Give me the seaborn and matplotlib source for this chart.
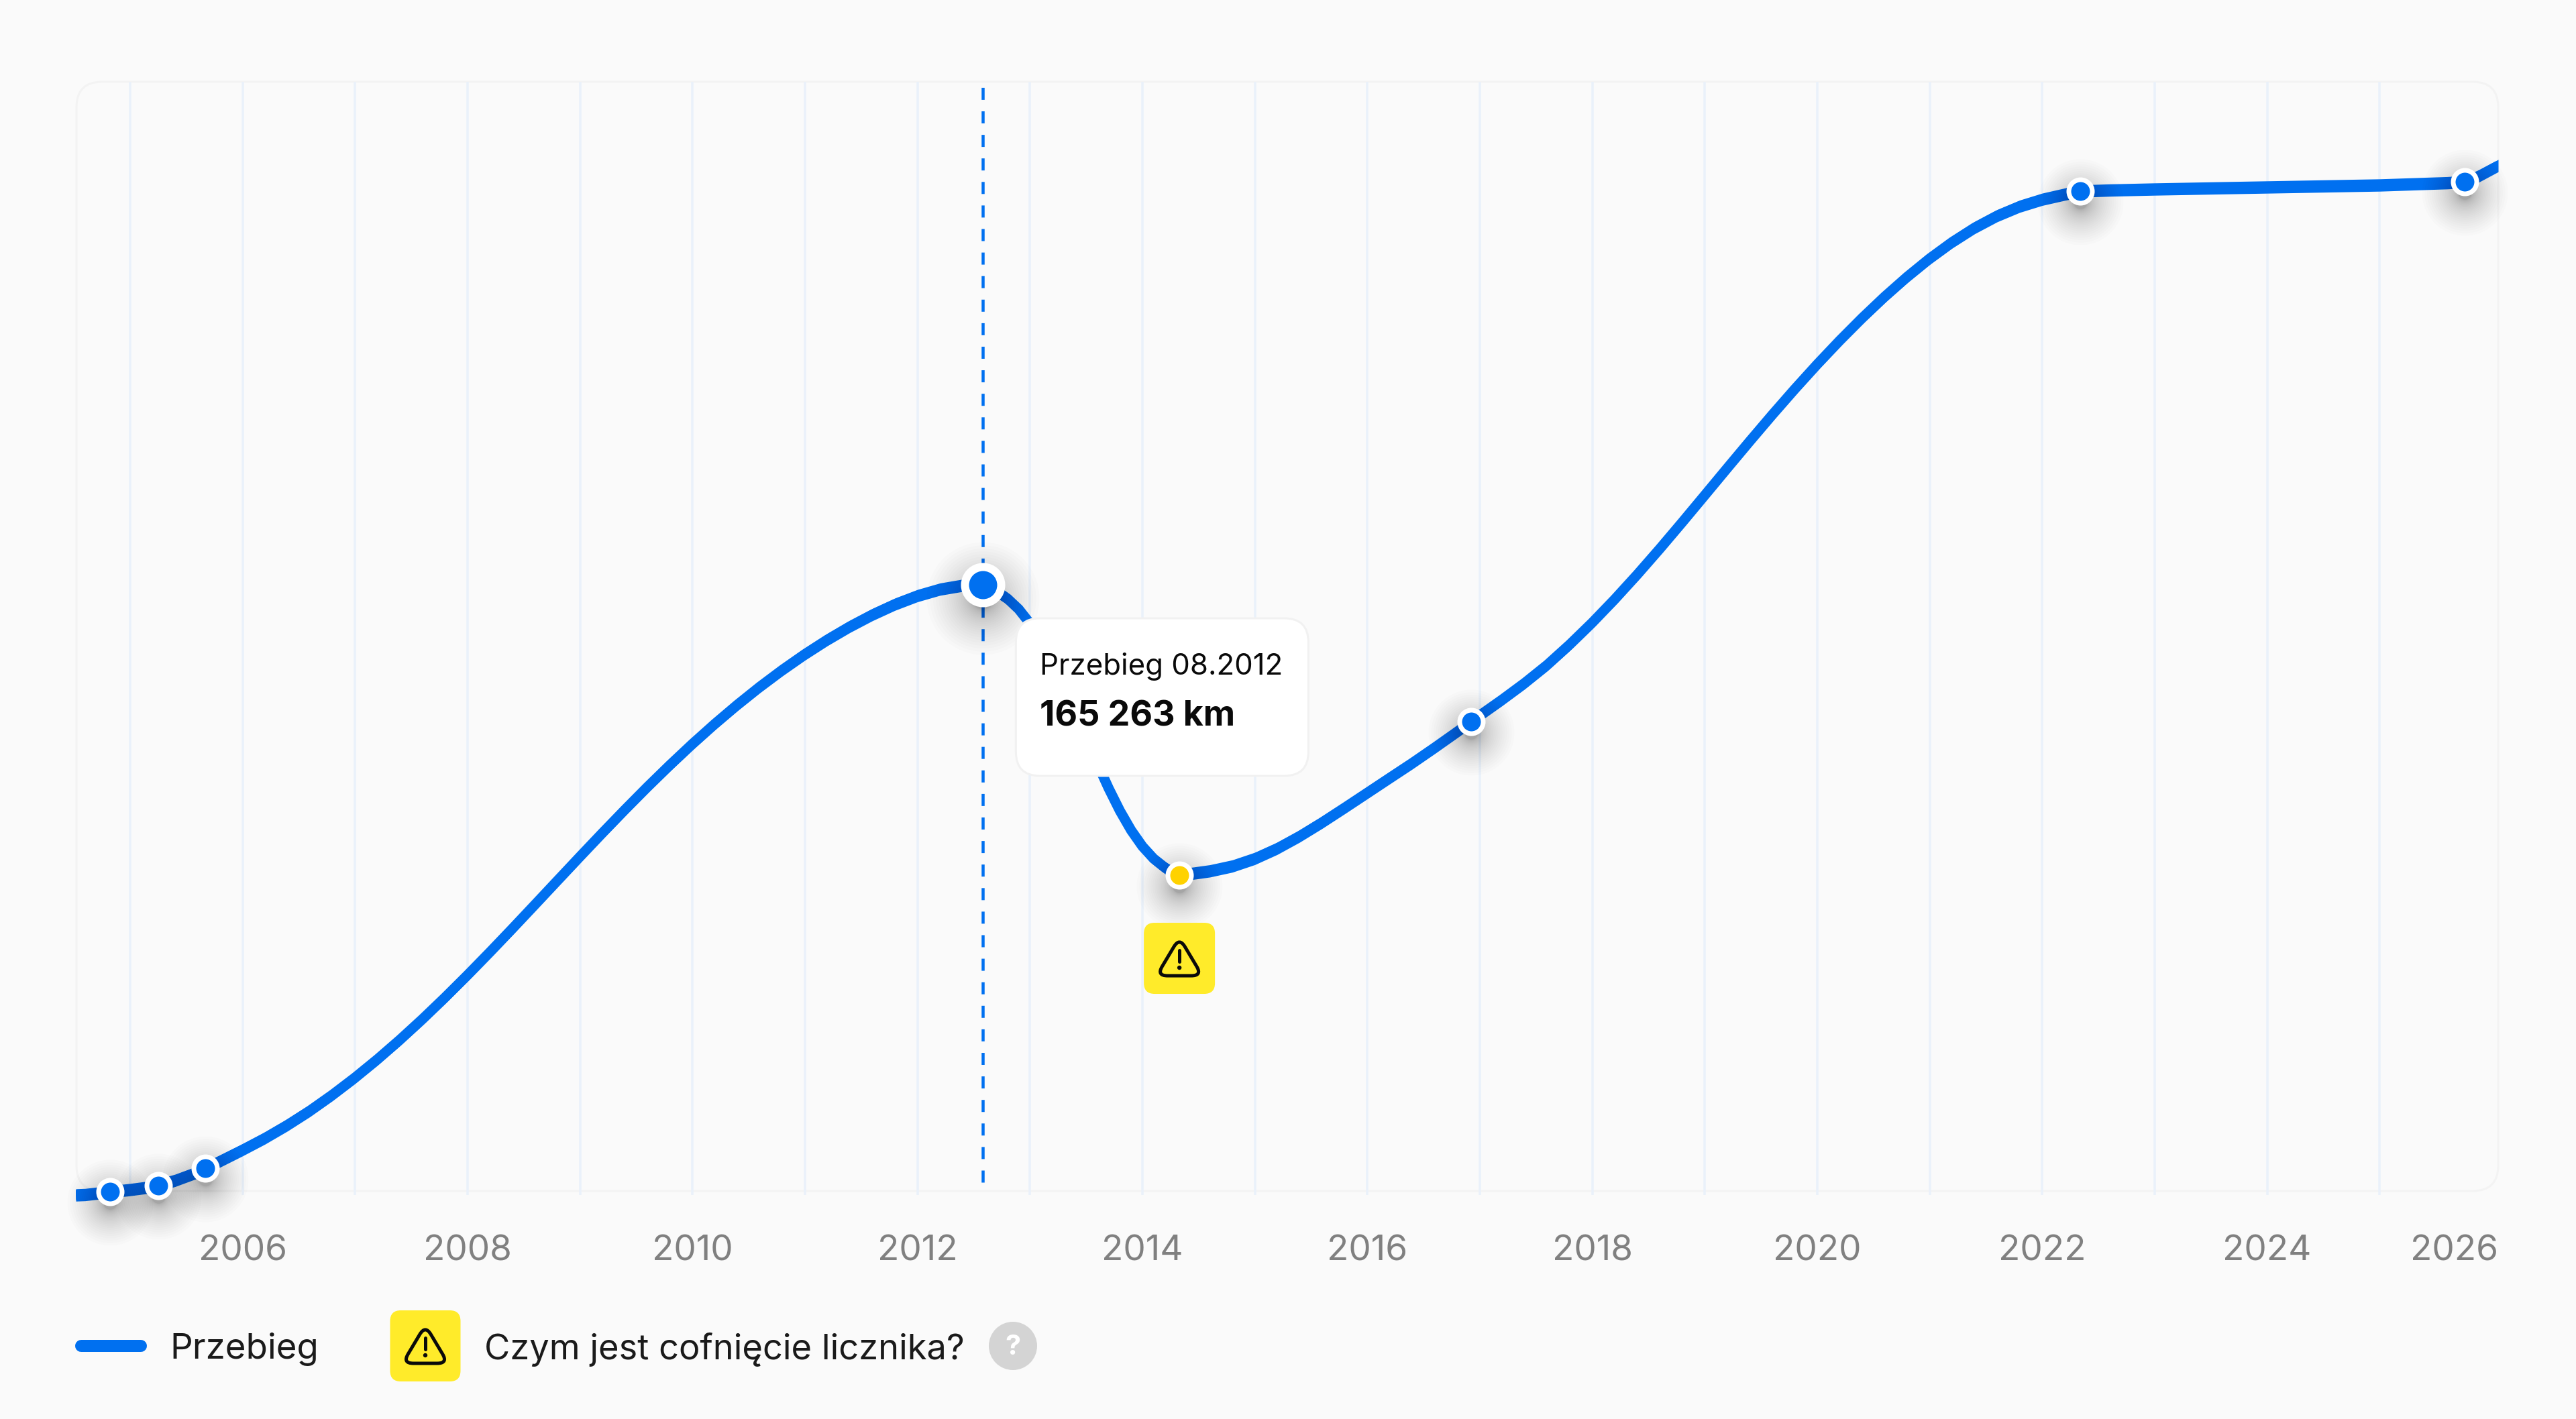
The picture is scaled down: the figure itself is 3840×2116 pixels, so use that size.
import matplotlib
matplotlib.use("Agg")
import matplotlib.pyplot as plt
import matplotlib.transforms as mtrans
from matplotlib.patches import Circle, FancyBboxPatch, PathPatch
from matplotlib.path import Path
import seaborn as sns

# przebieg
years = [2004.517, 2004.6, 2004.8, 2005.0, 2005.2, 2005.4, 2005.6, 2005.8, 2006.0, 2006.2, 2006.4,
         2006.6, 2006.8, 2007.0, 2007.2, 2007.4, 2007.6, 2007.8, 2008.0, 2008.2, 2008.4,
         2008.6, 2008.8, 2009.0, 2009.2, 2009.4, 2009.6, 2009.8, 2010.0, 2010.2, 2010.4,
         2010.6, 2010.8, 2011.0, 2011.2, 2011.4, 2011.6, 2011.8, 2012.0, 2012.2, 2012.4, 2012.5, 2012.583,
         2012.7, 2012.8, 2012.9, 2013.0, 2013.1, 2013.2, 2013.3, 2013.4, 2013.5, 2013.6,
         2013.7, 2013.8, 2013.9, 2014.0, 2014.1, 2014.2, 2014.3, 2014.329,
         2014.4, 2014.6, 2014.8, 2015.0, 2015.2, 2015.4, 2015.6, 2015.8, 2016.0, 2016.2,
         2016.4, 2016.6, 2016.8, 2017.0, 2017.2, 2017.4, 2017.6, 2017.8, 2018.0, 2018.2,
         2018.4, 2018.6, 2018.8, 2019.0, 2019.2, 2019.4, 2019.6, 2019.8, 2020.0, 2020.2,
         2020.4, 2020.6, 2020.8, 2021.0, 2021.2, 2021.4, 2021.6, 2021.8, 2022.0, 2022.2, 2022.338,
         2022.6, 2023.0, 2024.0, 2025.0, 2025.4, 2025.6, 2025.755, 2025.82, 2025.887, 2026.054]
km = [0, 100, 800, 1450, 2250, 3950, 6200, 9200, 12250, 15450, 19000,
      22890, 27190, 31830, 36800, 42090, 47670, 53510, 59570, 65810, 72190,
      78660, 85160, 91650, 98070, 104370, 110520, 116460, 122180, 127630, 132800,
      137680, 142240, 146490, 150410, 153980, 157180, 159980, 162300, 164050, 165090, 165250, 165263,
      163570, 161520, 158650, 154800, 149980, 144280, 137860, 130970, 123860, 116820,
      110130, 104040, 98760, 94420, 91080, 88670, 86750, 86620,
      86910, 87760, 89080, 91130, 93890, 97230, 100960, 104920, 108950, 112990,
      117010, 121200, 125500, 129900, 134200, 138700, 143590, 149100, 155020, 161350,
      168030, 175000, 182190, 189500, 196840, 204120, 211280, 218240, 224960, 231390,
      237510, 243290, 248670, 253630, 258080, 261970, 265200, 267750, 269630, 271010, 271860,
      272120, 272400, 272950, 273490, 273900, 274100, 274400, 275100, 276030, 278750]

point_years = [2004.820, 2005.251, 2005.668, 2016.924, 2022.338, 2025.755]
point_km = [880, 2600, 7180, 128300, 271860, 274400]
hover_year = 2012.583
hover_km = 165263
rollback_year = 2014.329
rollback_km = 86620

grid_years = list(range(2005, 2026))
tick_labels = ["2006", "2008", "2010", "2012", "2014", "2016", "2018", "2020", "2022", "2024", "2026"]

tooltip_title = "Przebieg 08.2012"
tooltip_value = "165 263 km"
legend_line = "Przebieg"
legend_warning = "Czym jest cofnięcie licznika?"

BLUE = "#0070F0"
YELLOW = "#FFEB2A"
GOLD = "#FFD200"
BG = "#FAFAFA"
DPI = 200
W, H = 3840, 2116


def pt(px):
    return px * 72 / DPI


def area(radius):
    return (2 * pt(radius)) ** 2


sns.set_theme(style="white")
plt.rcParams["font.family"] = ["Inter", "DejaVu Sans"]

fig = plt.figure(figsize=(W / DPI, H / DPI), dpi=DPI, facecolor=BG)

# tlo z zaokraglona ramka
back = fig.add_axes([0, 0, 1, 1], zorder=0)
back.set_xlim(0, W)
back.set_ylim(H, 0)
back.axis("off")
back.add_patch(FancyBboxPatch((114 + 38, 122 + 38), 3610 - 76, 1654 - 76, boxstyle="round,pad=38,rounding_size=38",
                              fc="none", ec="#F3F3F3", lw=pt(3)))

# os danych
left, right, top, bottom = 113, 3724, 122, 1795
ax = fig.add_axes([left / W, 1 - bottom / H, (right - left) / W, (bottom - top) / H], zorder=1)
ax.patch.set_alpha(0)
x_min, x_max = 2004.517, 2026.054
y_min, y_max = -2361, 301456
ax.set_xlim(x_min, x_max)
ax.set_ylim(y_min, y_max)
for s in ax.spines.values():
    s.set_visible(False)

km_per_px = (y_max - y_min) / (bottom - top)

ax.vlines(grid_years, 0, y_max, color="#EAF1FA", lw=pt(3.5), zorder=1)
ax.vlines([hover_year], 3450, y_max, color=BLUE, lw=pt(4.5), linestyles=(0, (4, 3.8)), zorder=2)

# linia: w oryginale poziome odcinki sa grubsze niz ukosne
sns.lineplot(x=years, y=km, sort=False, estimator=None, color=BLUE, lw=pt(15), ax=ax, zorder=3,
             solid_capstyle="butt", solid_joinstyle="round")
half = 9.2 * km_per_px
ax.fill_between(years, [v - half for v in km], [v + half for v in km], color=BLUE, lw=0, zorder=3)

ax.set_xticks(list(range(2006, 2026, 2)) + [x_max])
ax.set_xticklabels(tick_labels, color="#808080", fontsize=19.1)
ax.get_xticklabels()[-1].set_ha("right")
ax.set_yticks([])
ax.tick_params(axis="x", length=0, pad=pt(46))
ax.set_xlabel("")
ax.set_ylabel("")


# cien pod punktami
def shadow(xs, ys, r0, r1, drop):
    tr = ax.transData + mtrans.ScaledTranslation(0, -drop / DPI, fig.dpi_scale_trans)
    n = 28
    for i in range(n, -1, -1):
        r = r0 + (r1 - r0) * (i / n) ** 2
        ax.scatter(xs, ys, s=area(r), color="black", alpha=0.011, lw=0, transform=tr, clip_on=False, zorder=4)


shadow(point_years, point_km, 10, 64, 16)
shadow([rollback_year], [rollback_km], 10, 64, 16)
shadow([hover_year], [hover_km], 16, 84, 20)

sns.scatterplot(x=point_years, y=point_km, s=area(17.5), color=BLUE, edgecolor="white", linewidth=pt(7),
                ax=ax, zorder=5, clip_on=False)
sns.scatterplot(x=[rollback_year], y=[rollback_km], s=area(17.5), color=GOLD, edgecolor="white", linewidth=pt(7),
                ax=ax, zorder=5, clip_on=False)
sns.scatterplot(x=[hover_year], y=[hover_km], s=area(27), color=BLUE, edgecolor="white", linewidth=pt(12),
                ax=ax, zorder=5, clip_on=False)

# warstwa z dymkiem i legenda, wspolrzedne w pikselach
top_ax = fig.add_axes([0, 0, 1, 1], zorder=2)
top_ax.set_xlim(0, W)
top_ax.set_ylim(H, 0)
top_ax.axis("off")


def to_px(x, y):
    dx, dy = ax.transData.transform((x, y))
    return dx, H - dy


def warning_badge(cx, cy, w, h):
    r = 16
    top_ax.add_patch(FancyBboxPatch((cx - w / 2 + r, cy - h / 2 + r), w - 2 * r, h - 2 * r,
                                    boxstyle=f"round,pad={r},rounding_size={r}", fc=YELLOW, ec="none"))
    # zaokraglony trojkat
    a = (cx, cy - 31)
    b = (cx + 34, cy + 26)
    c = (cx - 34, cy + 26)
    corners = [a, b, c]
    verts, codes = [], []
    k = 0.24
    for i, p in enumerate(corners):
        prev = corners[i - 1]
        nxt = corners[(i + 1) % 3]
        start = (p[0] + (prev[0] - p[0]) * k, p[1] + (prev[1] - p[1]) * k)
        end = (p[0] + (nxt[0] - p[0]) * k, p[1] + (nxt[1] - p[1]) * k)
        verts += [start, p, end]
        codes += [Path.MOVETO if i == 0 else Path.LINETO, Path.CURVE3, Path.CURVE3]
    verts.append(verts[0])
    codes.append(Path.CLOSEPOLY)
    top_ax.add_patch(PathPatch(Path(verts, codes), fc="none", ec="#0A0A0A", lw=pt(5), joinstyle="round"))
    top_ax.plot([cx, cx], [cy - 12, cy + 5], color="#0A0A0A", lw=pt(5), solid_capstyle="round")
    top_ax.add_patch(Circle((cx, cy + 14), 3.2, fc="#0A0A0A", ec="none"))


hx, hy = to_px(hover_year, hover_km)
top_ax.add_patch(FancyBboxPatch((hx + 49 + 36, hy + 50 + 36), 436 - 72, 235 - 72,
                                boxstyle="round,pad=36,rounding_size=36", fc="white", ec="#F1F1F1", lw=pt(3)))
top_ax.text(hx + 85, hy + 122, tooltip_title, fontsize=15.75, color="#0A0A0A", va="center", ha="left")
top_ax.text(hx + 85, hy + 197, tooltip_value, fontsize=18.7, fontweight="bold", color="#0A0A0A",
            va="center", ha="left")

rx, ry = to_px(rollback_year, rollback_km)
warning_badge(rx, ry + 124, 106, 106)

top_ax.plot([121, 210], [2007, 2007], color=BLUE, lw=pt(18), solid_capstyle="round")
top_ax.text(253, 2012, legend_line, fontsize=19, color="#1A1A1A", va="center", ha="left")
warning_badge(634, 2007, 105, 106)
top_ax.text(722, 2012, legend_warning, fontsize=18.9, color="#1A1A1A", va="center", ha="left")
top_ax.add_patch(Circle((1510, 2007), 36, fc="#D4D4D4", ec="none"))
top_ax.text(1510, 2009, "?", fontsize=15, fontweight="bold", color="white", va="center", ha="center")

fig.savefig("out.png", dpi=DPI, facecolor=BG)
